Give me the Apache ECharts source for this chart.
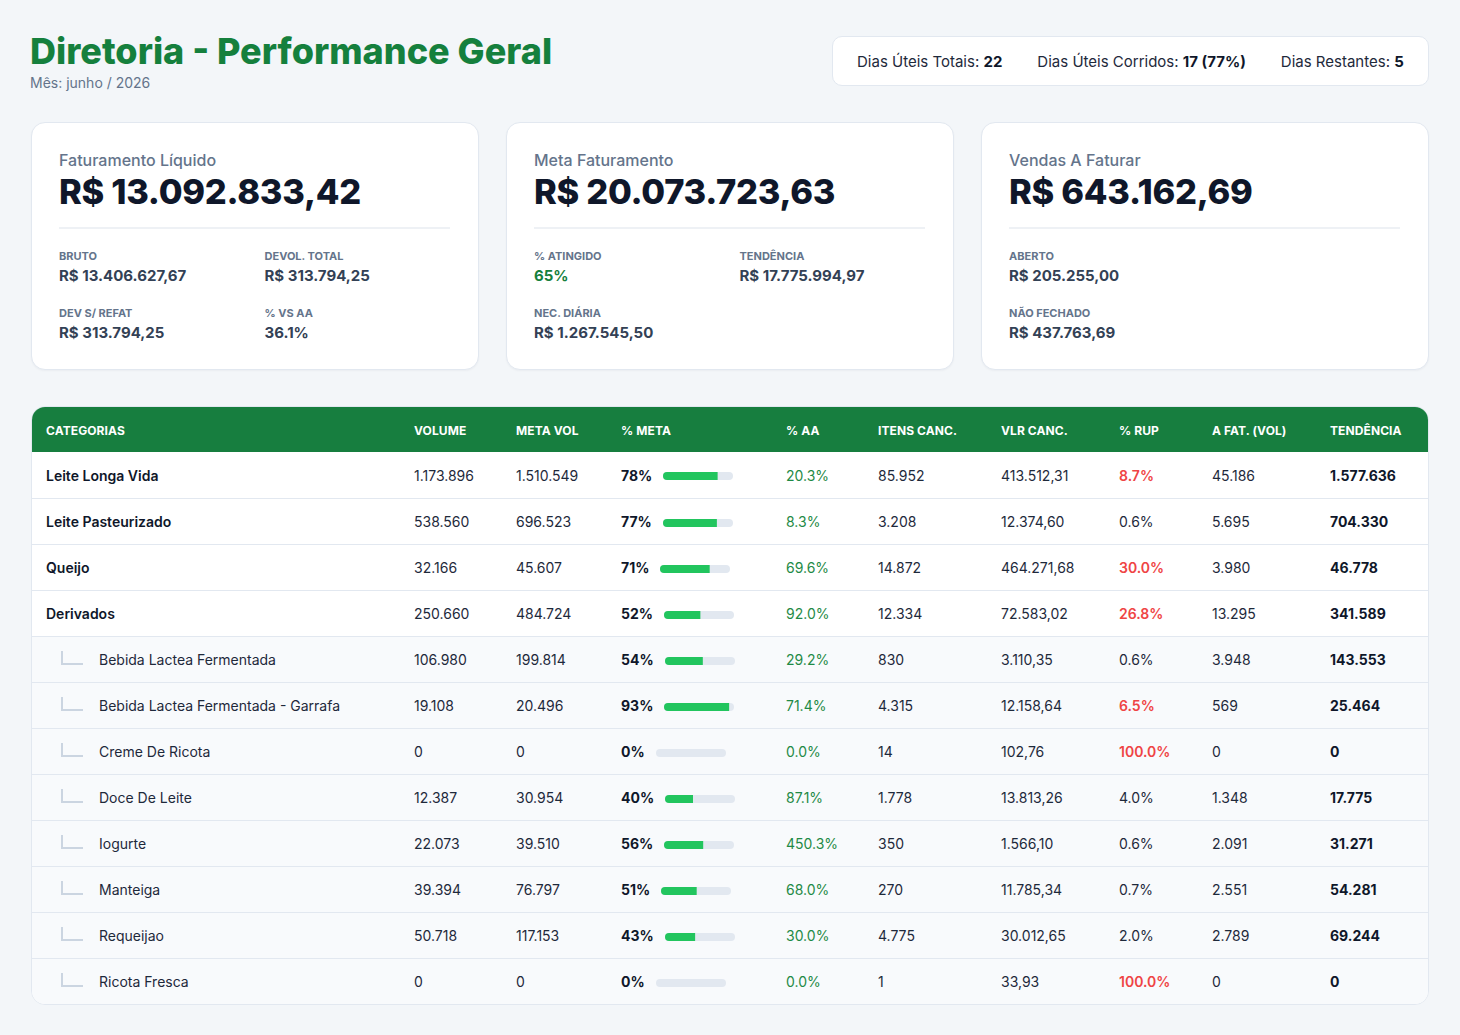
<!DOCTYPE html>
<html lang="pt-BR">
<head>
<meta charset="utf-8">
<title>Diretoria - Performance Geral</title>
<script src="https://cdn.jsdelivr.net/npm/echarts@6/dist/echarts.min.js"></script>
<style>
  * { box-sizing: border-box; }
  html, body { margin: 0; padding: 0; }
  body {
    width: 1460px; height: 1035px; overflow: hidden;
    background: #f3f6f9;
    font-family: Inter, "Noto Sans", Roboto, sans-serif;
    color: #1e293b;
    padding: 30px 30px 0 30px;
  }
  .top { display: flex; justify-content: space-between; align-items: flex-start; height: 62px; }
  .top h1 { margin: 0; font-size: 36px; line-height: 43px; font-weight: 800; color: #15803d; letter-spacing: 0; }
  .top .sub { font-size: 14px; line-height: 20px; color: #64748b; }
  .days {
    margin-top: 6px; height: 50px; background: #fff; border: 1px solid #e2e8f0;
    border-radius: 10px; padding: 0 24px; display: flex; align-items: center; gap: 35px;
    font-size: 15px; color: #1e293b; width: 597px; margin-right: 1px;
  }
  .days b { color: #0f172a; font-weight: 700; }
  .cards { display: flex; gap: 27px; margin-top: 30px; padding-left: 1px; }
  .card {
    width: 448px; height: 248px; background: #fff; border: 1px solid #e2e8f0; border-radius: 14px;
    padding: 27px 28px 0 27px; box-shadow: 0 1px 2px rgba(15,23,42,0.04);
  }
  .card .lbl { font-size: 16px; line-height: 20px; color: #64748b; font-weight: 500; }
  .card .big { font-size: 34.5px; line-height: 38px; font-weight: 800; color: #0f172a; margin-top: 3px; letter-spacing: -0.3px; }
  .card hr { border: 0; height: 2px; background: #eef1f5; margin: 16px 0 20px 0; }
  .card .grid { display: grid; grid-template-columns: 1fr 1fr; column-gap: 20px; row-gap: 20px; }
  .card .k { font-size: 11px; line-height: 14px; font-weight: 700; color: #64748b; text-transform: uppercase; margin-bottom: 3px; }
  .card .v { font-size: 15px; line-height: 20px; font-weight: 700; color: #334155; }
  .card .v.green { color: #15803d; }
  .tbl {
    margin-top: 36px; margin-left: 1px; width: 1398px; background: #fff; border: 1px solid #e2e8f0; border-radius: 14px; overflow: hidden;
  }
  table { border-collapse: collapse; table-layout: fixed; width: 100%; }
  th {
    background: #177e3f; color: #fff; font-size: 12px; font-weight: 700; text-align: left;
    height: 45px; padding: 1px 15px 0 14px; text-transform: uppercase; letter-spacing: 0.1px;
  }
  td {
    height: 46px; padding: 1px 15px 0 14px; font-size: 14px; color: #1e293b; border-bottom: 1px solid #e2e8f0;
    white-space: nowrap; vertical-align: middle;
  }
  tr:last-child td { border-bottom: 0; }
  tr.sub td { background: #f8fafc; }
  td.cat { font-weight: 600; color: #0f172a; }
  tr.sub td.cat { font-weight: 400; color: #1e293b; }
  .corner {
    display: inline-block; width: 22px; height: 14px; border-left: 2px solid #cbd5e1; border-bottom: 2px solid #cbd5e1;
    margin: 0 16px 0 15px; vertical-align: middle; position: relative; top: -3px;
  }
  .pm { display: flex; align-items: center; }
  .pm b { font-weight: 700; color: #0f172a; }
  .bar { width: 70px; height: 8px; margin-left: 11px; margin-top: 2px; }
  .aa { color: #1f8a46; }
  .rup-hi { color: #ef4444; font-weight: 600; }
  td.tend { font-weight: 700; color: #0f172a; }
</style>
</head>
<body>
<div class="top">
  <div>
    <h1>Diretoria - Performance Geral</h1>
    <div class="sub">Mês: junho / 2026</div>
  </div>
  <div class="days" id="days"></div>
</div>
<div class="cards" id="cards"></div>
<div class="tbl">
  <table>
    <colgroup>
      <col style="width:368px"><col style="width:102px"><col style="width:105px"><col style="width:165px">
      <col style="width:92px"><col style="width:123px"><col style="width:118px"><col style="width:93px">
      <col style="width:118px"><col style="width:114px">
    </colgroup>
    <thead><tr id="head"></tr></thead>
    <tbody id="body"></tbody>
  </table>
</div>
<script>
/* ---- header counters ---- */
const dayLabels = ["Dias Úteis Totais:", "Dias Úteis Corridos:", "Dias Restantes:"];
const dayValues = ["22", "17 (77%)", "5"];

/* ---- KPI cards ---- */
const kpiTitles = ["Faturamento Líquido", "Meta Faturamento", "Vendas A Faturar"];
const kpiValues = ["R$ 13.092.833,42", "R$ 20.073.723,63", "R$ 643.162,69"];
const kpiDetailLabels = [
  ["Bruto", "Devol. Total", "Dev S/ Refat", "% vs AA"],
  ["% Atingido", "Tendência", "Nec. Diária"],
  ["Aberto", "", "Não Fechado"],
];
const kpiDetailValues = [
  ["R$ 13.406.627,67", "R$ 313.794,25", "R$ 313.794,25", "36.1%"],
  ["65%", "R$ 17.775.994,97", "R$ 1.267.545,50"],
  ["R$ 205.255,00", "", "R$ 437.763,69"],
];

/* ---- table ---- */
const columns = ["Categorias", "Volume", "Meta Vol", "% Meta", "% AA", "Itens Canc.", "Vlr Canc.", "% Rup", "A Fat. (Vol)", "Tendência"];
const categories = [
  "Leite Longa Vida", "Leite Pasteurizado", "Queijo", "Derivados",
  "Bebida Lactea Fermentada", "Bebida Lactea Fermentada - Garrafa", "Creme De Ricota",
  "Doce De Leite", "Iogurte", "Manteiga", "Requeijao", "Ricota Fresca",
];
const isSub = [false, false, false, false, true, true, true, true, true, true, true, true];
const volume = [1173896, 538560, 32166, 250660, 106980, 19108, 0, 12387, 22073, 39394, 50718, 0];
const metaVol = [1510549, 696523, 45607, 484724, 199814, 20496, 0, 30954, 39510, 76797, 117153, 0];
const pctMeta = [78, 77, 71, 52, 54, 93, 0, 40, 56, 51, 43, 0];
const pctAA = [20.3, 8.3, 69.6, 92.0, 29.2, 71.4, 0.0, 87.1, 450.3, 68.0, 30.0, 0.0];
const itensCanc = [85952, 3208, 14872, 12334, 830, 4315, 14, 1778, 350, 270, 4775, 1];
const vlrCanc = [413512.31, 12374.60, 464271.68, 72583.02, 3110.35, 12158.64, 102.76, 13813.26, 1566.10, 11785.34, 30012.65, 33.93];
const pctRup = [8.7, 0.6, 30.0, 26.8, 0.6, 6.5, 100.0, 4.0, 0.6, 0.7, 2.0, 100.0];
const aFatVol = [45186, 5695, 3980, 13295, 3948, 569, 0, 1348, 2091, 2551, 2789, 0];
const tendencia = [1577636, 704330, 46778, 341589, 143553, 25464, 0, 17775, 31271, 54281, 69244, 0];

const RUP_ALERT = 5;

function fmtInt(n) {
  return String(n).replace(/\B(?=(\d{3})+(?!\d))/g, ".");
}
function fmtMoney(n) {
  const parts = n.toFixed(2).split(".");
  return fmtInt(parts[0]) + "," + parts[1];
}

document.getElementById("days").innerHTML = dayLabels
  .map((l, i) => `<span>${l} <b>${dayValues[i]}</b></span>`)
  .join("");

document.getElementById("cards").innerHTML = kpiTitles.map((t, c) => {
  const cells = kpiDetailLabels[c].map((k, j) => {
    if (!k) return "<div></div>";
    const green = c === 1 && j === 0 ? " green" : "";
    return `<div><div class="k">${k}</div><div class="v${green}">${kpiDetailValues[c][j]}</div></div>`;
  }).join("");
  return `<div class="card"><div class="lbl">${t}</div><div class="big">${kpiValues[c]}</div><hr><div class="grid">${cells}</div></div>`;
}).join("");

document.getElementById("head").innerHTML = columns.map((c) => `<th>${c}</th>`).join("");

document.getElementById("body").innerHTML = categories.map((name, i) => {
  const cat = isSub[i] ? `<span class="corner"></span>${name}` : name;
  const rupCls = pctRup[i] > RUP_ALERT ? ' class="rup-hi"' : "";
  return `<tr class="${isSub[i] ? "sub" : ""}">
    <td class="cat">${cat}</td>
    <td>${fmtInt(volume[i])}</td>
    <td>${fmtInt(metaVol[i])}</td>
    <td><div class="pm"><b>${pctMeta[i]}%</b><div class="bar" id="bar${i}"></div></div></td>
    <td class="aa">${pctAA[i].toFixed(1)}%</td>
    <td>${fmtInt(itensCanc[i])}</td>
    <td>${fmtMoney(vlrCanc[i])}</td>
    <td${rupCls}>${pctRup[i].toFixed(1)}%</td>
    <td>${fmtInt(aFatVol[i])}</td>
    <td class="tend">${fmtInt(tendencia[i])}</td>
  </tr>`;
}).join("");

/* progress bars in the % META column: one tiny bar chart per row */
categories.forEach(function (name, i) {
  const chart = echarts.init(document.getElementById("bar" + i), null, { renderer: "canvas" });
  chart.setOption({
    animation: false,
    grid: { left: 0, right: 0, top: 0, bottom: 0 },
    xAxis: { type: "value", min: 0, max: 100, show: false },
    yAxis: { type: "category", data: [name], show: false },
    series: [{
      type: "bar",
      data: [pctMeta[i]],
      barWidth: 8,
      silent: true,
      showBackground: true,
      backgroundStyle: { color: "#e2e8f0", borderRadius: 4 },
      itemStyle: { color: "#22c55e", borderRadius: [4, 0, 0, 4] },
    }],
  });
});
</script>
</body>
</html>
